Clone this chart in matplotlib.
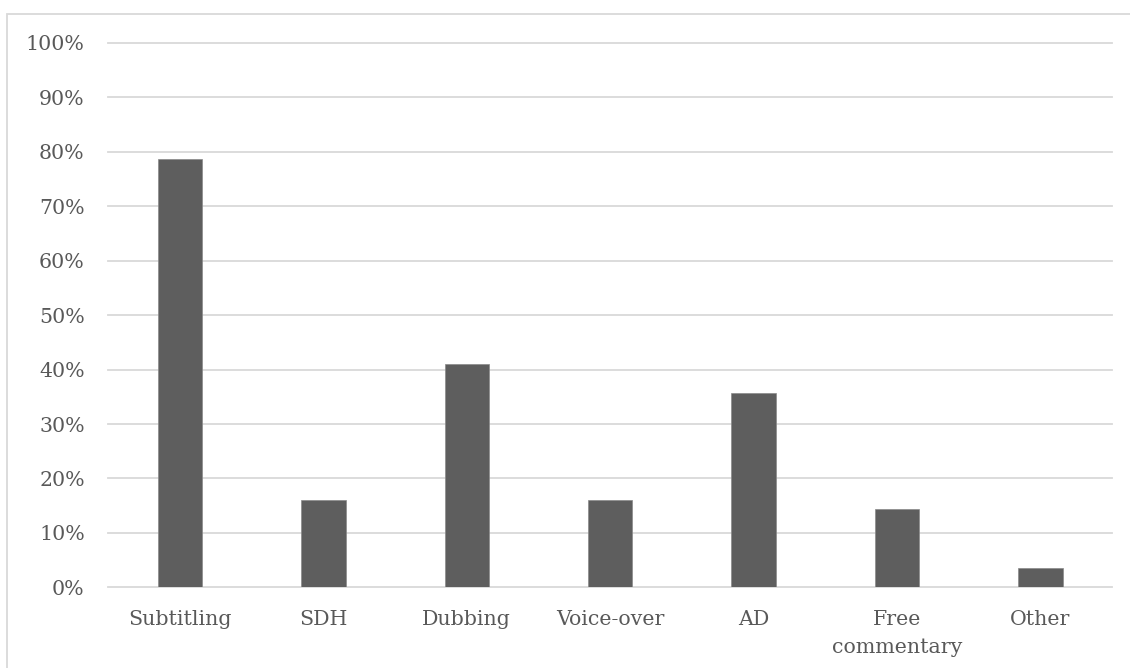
import matplotlib
matplotlib.use('Agg')
from matplotlib import pyplot as plt
from matplotlib.patches import Rectangle

categories = ['Subtitling', 'SDH', 'Dubbing', 'Voice-over', 'AD', 'Free\ncommentary', 'Other']
shares = [78.6, 16.1, 41.1, 16.1, 35.7, 14.3, 3.6]
y_ticks = [0, 10, 20, 30, 40, 50, 60, 70, 80, 90, 100]

text_color = '#595959'
plt.rcParams['font.family'] = ['DejaVu Serif']

fig = plt.figure(figsize=(11.3, 6.68), dpi=100)
ax = fig.add_axes([108.3 / 1130, 1 - 587.3 / 668, (1112 - 108.3) / 1130, (587.3 - 43) / 668])

# outer chart frame, cropped on the right and bottom
fig.patches.append(Rectangle((7 / 1130, -0.1), 1.2, 1 - 13.7 / 668 + 0.1,
                             transform=fig.transFigure, fill=False,
                             edgecolor='#d9d9d9', linewidth=1.3))

x = list(range(len(categories)))
ax.bar(x, shares, width=0.31, color='#5e5e5e', edgecolor='#8a8a8a', linewidth=0.5, zorder=3)

ax.set_xlim(-0.5, len(categories) - 0.5)
ax.set_ylim(0, 100)
ax.set_yticks(y_ticks)
ax.set_yticklabels([f'{t}%' for t in y_ticks])
ax.set_xticks(x)
ax.set_xticklabels(categories, linespacing=1.65)
ax.grid(axis='y', color='#d9d9d9', linewidth=1.3, zorder=0)
for gl in ax.get_ygridlines():
    gl.set_clip_on(False)
ax.tick_params(axis='both', length=0, colors=text_color, labelsize=14.8)
ax.tick_params(axis='y', pad=17)
ax.tick_params(axis='x', pad=16)
for s in ax.spines.values():
    s.set_visible(False)

fig.savefig('out.png', dpi=100)
